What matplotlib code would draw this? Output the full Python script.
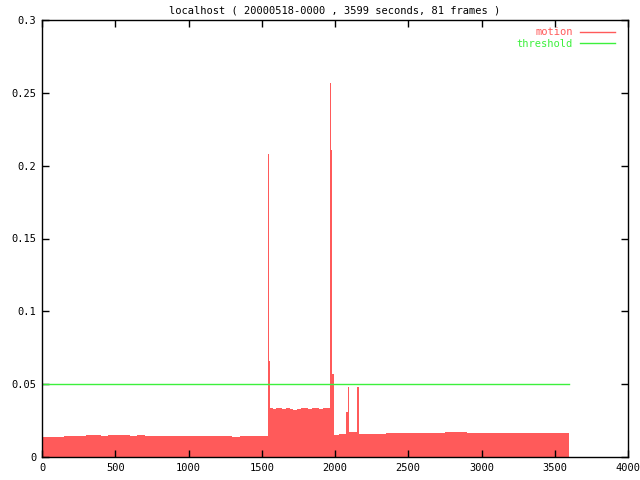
import matplotlib
matplotlib.use("Agg")
import matplotlib.pyplot as plt

# motion level: start time (s) of each step and its value
base_t = [0, 50, 100, 150, 200, 250, 300, 350, 400, 450, 500, 550, 600, 650, 700,
          750, 800, 850, 900, 950, 1000, 1050, 1100, 1150, 1200, 1250, 1300, 1350,
          1400, 1450, 1500]
base_v = [0.0137, 0.0139, 0.0140, 0.0141, 0.0142, 0.0145, 0.0148, 0.0149, 0.0147,
          0.0148, 0.0149, 0.0150, 0.0147, 0.0148, 0.0146, 0.0145, 0.0143, 0.0144,
          0.0144, 0.0143, 0.0143, 0.0144, 0.0143, 0.0142, 0.0142, 0.0141, 0.0140,
          0.0141, 0.0141, 0.0142, 0.0143]

busy_t = [1544, 1548, 1553, 1575, 1600, 1615, 1619, 1640, 1665, 1690, 1715, 1740,
          1765, 1790, 1815, 1840, 1865, 1890, 1915, 1940, 1966, 1972, 1975, 1981,
          1995]
busy_v = [0.208, 0.066, 0.0335, 0.0330, 0.0338, 0.047, 0.0333, 0.0328, 0.0335,
          0.0330, 0.0326, 0.0332, 0.0338, 0.0334, 0.0331, 0.0336, 0.0333, 0.0330,
          0.0334, 0.0336, 0.257, 0.198, 0.211, 0.057, 0.0153]

tail_t = [2030, 2075, 2088, 2094, 2152, 2162, 2200, 2250, 2300, 2350, 2400, 2450,
          2500, 2550, 2600, 2650, 2700, 2750, 2800, 2850, 2900, 2950, 3000, 3050,
          3100, 3150, 3200, 3250, 3300, 3350, 3400, 3450, 3500, 3550, 3599]
tail_v = [0.0155, 0.031, 0.048, 0.0175, 0.048, 0.0158, 0.0157, 0.0160, 0.0161,
          0.0163, 0.0162, 0.0163, 0.0164, 0.0165, 0.0166, 0.0167, 0.0168, 0.0169,
          0.0170, 0.0169, 0.0168, 0.0168, 0.0167, 0.0166, 0.0166, 0.0165, 0.0165,
          0.0164, 0.0164, 0.0165, 0.0166, 0.0166, 0.0168, 0.0167, 0.0167]

threshold = 0.05
t_end = 3599

t = base_t + busy_t + tail_t
v = base_v + busy_v + tail_v

red = "#ff5a5a"
green = "#3cf03c"
mono = "DejaVu Sans Mono"

fig = plt.figure(figsize=(6.4, 4.8), dpi=100)
ax = fig.add_axes([42 / 640, 23 / 480, 586 / 640, 437 / 480])

ax.fill_between(t, v, 0, step="post", color=red, linewidth=0)
ax.plot([], [], color=red, lw=1, label="motion")
ax.plot([0, t_end], [threshold, threshold], color=green, lw=1, label="threshold")

ax.set_xlim(0, 4000)
ax.set_ylim(0, 0.3)
ax.set_xticks(range(0, 4001, 500))
ax.set_yticks([0, 0.05, 0.1, 0.15, 0.2, 0.25, 0.3])
ax.set_yticklabels(["0", "0.05", "0.1", "0.15", "0.2", "0.25", "0.3"])
ax.tick_params(direction="in", top=True, right=True, length=5, width=1,
               labelsize=7.5, pad=4)
for lab in ax.get_xticklabels() + ax.get_yticklabels():
    lab.set_fontfamily(mono)
for s in ax.spines.values():
    s.set_linewidth(1)

ax.set_title("localhost ( 20000518-0000 , 3599 seconds, 81 frames )",
             fontsize=7.5, family=mono, pad=5)

leg = ax.legend(loc="upper right", bbox_to_anchor=(1 - 6 / 586, 1),
                frameon=False, markerfirst=False,
                labelcolor="linecolor", prop={"family": mono, "size": 7.5},
                handlelength=3.3, borderaxespad=0.3, labelspacing=0.15,
                handletextpad=0.7)

fig.savefig("out.png", dpi=100)
